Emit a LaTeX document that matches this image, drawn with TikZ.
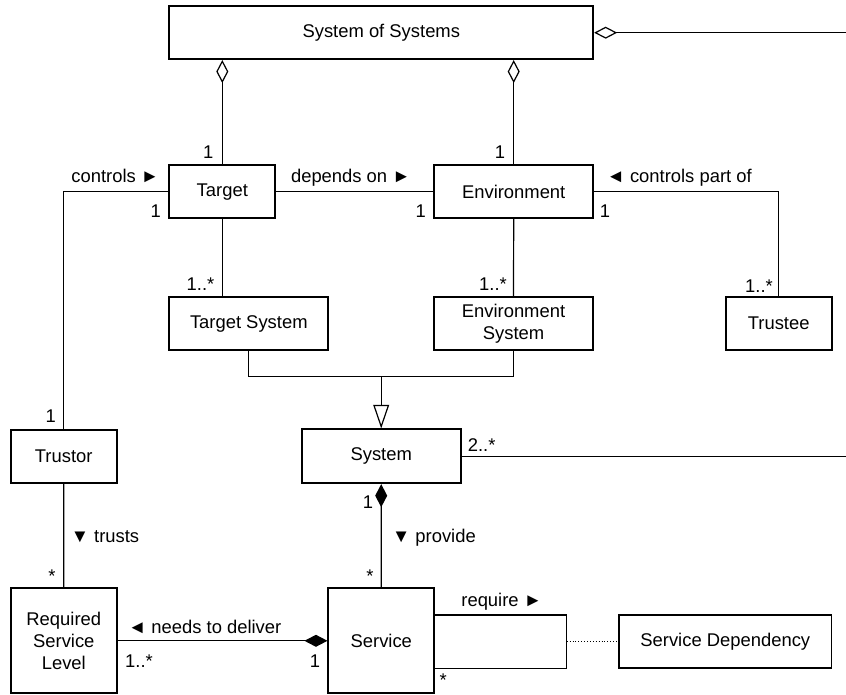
\documentclass[tikz,border=0pt]{standalone}
\usepackage{fontspec}
\setmainfont{Liberation Sans}
\usetikzlibrary{arrows.meta}

\begin{document}
\begin{tikzpicture}[x=0.5pt,y=-0.5pt,
  every node/.style={font=\fontsize{9.2pt}{11pt}\selectfont},
  cls/.style={draw,line width=0.85pt,inner sep=0pt,align=center,
    minimum width=53pt,minimum height=26.5pt},
  wide/.style={minimum width=79.5pt},
  tall/.style={minimum height=52.5pt},
  lbl/.style={inner sep=0pt,text height=0.716em,text depth=0pt},
  conn/.style={line width=0.6pt},
  agg/.style={{Diamond[open,length=11.5pt,width=6pt,line width=0.6pt]}-},
  comp/.style={{Diamond[length=11.5pt,width=6pt]}-},
  gen/.style={-{Triangle[open,length=11.8pt,width=7.9pt,line width=0.6pt]}},
]
\useasboundingbox (0,0) rectangle (846,695);

% classes
\node[cls,minimum width=212pt] (sos) at (381.3,32.7) {System of Systems};
\node[cls] (target) at (222.3,191.7) {Target};
\node[cls,wide] (env) at (513.7,191.7) {Environment};
\node[cls,wide] (tsys) at (248.8,323.7) {Target System};
\node[cls,wide] (esys) at (513.5,323.7) {Environment\\System};
\node[cls] (trustee) at (778.7,323.7) {Trustee};
\node[cls] (trustor) at (63.7,456.2) {Trustor};
\node[cls,wide,minimum height=27pt] (system) at (381.2,456.3) {System};
\node[cls,tall] (rsl) at (63.8,640.8) {Required\\Service\\Level};
\node[cls,tall] (service) at (381.3,640.8) {Service};
\node[cls,minimum width=106.3pt] (sdep) at (725.3,641.7) {Service Dependency};

% free ends and bends
\coordinate (eR1) at (846,32.7);
\coordinate (eR2) at (846,456.3);
\coordinate (gj) at (381.2,376.7);
\coordinate (lp1) at (566.7,615);
\coordinate (lp2) at (566.7,668.3);
\coordinate (lpm) at (566.7,641.7);

% aggregations of the system of systems
\draw[conn,agg] (sos.east) -- (eR1);
\draw[conn,agg] (target.north |- sos.south) -- (target.north);
\draw[conn,agg] (env.north |- sos.south) -- (env.north);

% associations
\draw[conn] (target.east) -- (env.west);
\draw[conn] (target.west) -| (trustor.north);
\draw[conn] (env.east) -| (trustee.north);
\draw[conn] (target.south) -- (target.south |- tsys.north);
\draw[conn] (env.south) -- (esys.north);
\draw[conn] (trustor.south) -- (rsl.north);
\draw[conn] (system.east) -- (eR2);

% generalization
\draw[conn] (tsys.south) |- (gj) -| (esys.south);
\draw[conn,gen] (gj) -- (system.north);

% compositions
\draw[conn,comp] (system.south) -- (service.north);
\draw[conn,comp] (service.west) -- (rsl.east);

% self association with its association class
\draw[conn] (service.east |- lp1) -- (lp1) -- (lp2) -- (service.east |- lp2);
\draw[line width=0.45pt,densely dotted] (lpm) -- (sdep.west);

% multiplicities and role names
\node[lbl] (m1) at (208.3,151.7) {1};
\node[lbl] (m2) at (500,151.7) {1};
\node[lbl] (a1) at (115.3,175) {controls ►};
\node[lbl] (m3) at (155.7,210) {1};
\node[lbl] (a2) at (350.8,175) {depends on ►};
\node[lbl] (m4) at (420.7,210) {1};
\node[lbl] (a3) at (679.2,175) {◄ controls part of};
\node[lbl] (m5) at (605,210) {1};
\node[lbl] (m6) at (759,285) {1..*};
\node[lbl] (m7) at (200.5,283.3) {1..*};
\node[lbl] (m8) at (493,283.3) {1..*};
\node[lbl] (m9) at (50.7,415) {1};
\node[lbl] (m10) at (481.7,444) {2..*};
\node[lbl] (m11) at (368,501.7) {1};
\node[lbl] (a4) at (105,535) {▼ trusts};
\node[lbl] (m12) at (52,575.7) {*};
\node[lbl,anchor=west] (a5) at (391.7,535) {▼ provide};
\node[lbl] (m13) at (370,575.7) {*};
\node[lbl] (a6) at (204.7,626) {◄ needs to deliver};
\node[lbl] (m14) at (139,660) {1..*};
\node[lbl] (m15) at (315,660) {1};
\node[lbl] (a7) at (501.7,599.3) {require ►};
\node[lbl,text height=0.3em] (m16) at (443.3,683.3) {*};
\end{tikzpicture}
\end{document}
